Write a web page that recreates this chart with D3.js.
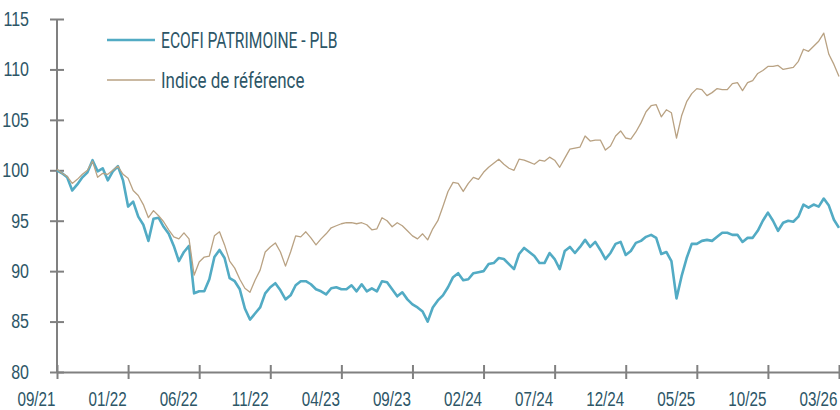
<!DOCTYPE html>
<meta charset="utf-8">
<style>
  body { margin: 0; background: #fff; }
  svg { font-family: "Roboto", "Liberation Sans", sans-serif; }
  .axis path, .axis line { stroke: #808080; stroke-width: 2; fill: none; }
  .axis text { fill: #2d5667; font-size: 20px; }
  .legend text { fill: #2d5667; font-size: 22px; }
</style>
<body>
<script src="https://cdn.jsdelivr.net/npm/d3@7"></script>
<script>

// tick labels on the category axis (evenly spaced, every 14th sample)
var dateLabels = ["09/21","01/22","06/22","11/22","04/23","09/23","02/24","07/24","12/24","05/25","10/25","03/26"];
var yTicks = [80, 85, 90, 95, 100, 105, 110, 115];
var seriesNames = ["ECOFI PATRIMOINE - PLB", "Indice de référence"];

// values, base 100
var ecofi = [
  100.0, 99.7, 99.3, 98.0, 98.6, 99.3, 99.8, 101.0, 99.9, 100.2,
  99.0, 99.9, 100.4, 99.0, 96.4, 96.9, 95.4, 94.6, 93.0, 95.2,
  95.3, 94.4, 93.7, 92.5, 91.0, 91.9, 92.5, 87.8, 88.0, 88.0,
  89.2, 91.4, 92.1, 91.3, 89.3, 89.0, 88.2, 86.3, 85.2, 85.8,
  86.4, 87.8, 88.4, 88.8, 88.1, 87.2, 87.6, 88.6, 89.0, 89.0,
  88.7, 88.2, 88.0, 87.7, 88.3, 88.4, 88.2, 88.2, 88.6, 88.0,
  88.7, 88.0, 88.3, 88.0, 89.0, 88.9, 88.2, 87.5, 87.9, 87.2,
  86.7, 86.4, 86.0, 85.0, 86.4, 87.1, 87.6, 88.4, 89.4, 89.8,
  89.1, 89.2, 89.8, 89.9, 90.0, 90.7, 90.8, 91.3, 91.2, 90.7,
  90.2, 91.7, 92.3, 91.9, 91.5, 90.8, 90.8, 91.8, 91.2, 90.2,
  92.0, 92.4, 91.8, 92.4, 93.1, 92.4, 92.9, 92.1, 91.2, 91.8,
  92.7, 92.9, 91.6, 92.0, 92.8, 93.0, 93.4, 93.6, 93.3, 91.7,
  91.9, 91.0, 87.3, 89.5, 91.3, 92.7, 92.7, 93.0, 93.1, 93.0,
  93.4, 93.8, 93.8, 93.6, 93.6, 92.9, 93.3, 93.3, 94.0, 95.0,
  95.8, 95.0, 94.0, 94.8, 95.0, 94.9, 95.4, 96.6, 96.3, 96.6,
  96.4, 97.2, 96.5, 95.1, 94.3
];

var indice = [
  100.1, 99.7, 99.4, 98.7, 99.1, 99.6, 100.0, 100.9, 99.3, 99.7,
  99.6, 100.0, 100.4, 99.6, 99.2, 98.0, 97.5, 96.6, 95.3, 96.0,
  95.5, 94.9, 94.1, 93.4, 93.2, 93.8, 93.2, 89.6, 90.9, 91.4,
  91.5, 93.5, 93.9, 92.6, 91.0, 90.3, 89.2, 88.3, 87.9, 89.1,
  90.1, 91.9, 92.4, 92.8, 91.9, 90.5, 91.9, 93.5, 93.4, 93.9,
  93.3, 92.6, 93.2, 93.7, 94.3, 94.5, 94.7, 94.8, 94.8, 94.7,
  94.8, 94.6, 94.1, 94.2, 95.3, 95.0, 94.4, 94.8, 94.5, 94.0,
  93.5, 93.2, 93.7, 93.1, 94.2, 95.0, 96.4, 97.9, 98.8, 98.7,
  97.9, 98.7, 99.3, 99.1, 99.8, 100.3, 100.7, 101.1, 100.6, 100.2,
  100.0, 101.1, 101.0, 100.8, 100.6, 101.0, 100.9, 101.3, 101.0, 100.3,
  101.2, 102.1, 102.2, 102.3, 103.4, 102.9, 103.0, 103.0, 102.0, 102.4,
  103.4, 103.9, 103.2, 103.1, 103.8, 104.7, 105.8, 106.4, 106.5, 105.3,
  106.0, 105.7, 103.2, 105.4, 106.8, 107.6, 108.1, 108.0, 107.4, 107.7,
  108.1, 108.0, 108.0, 108.6, 108.7, 107.9, 108.7, 108.9, 109.6, 109.9,
  110.3, 110.3, 110.4, 110.0, 110.1, 110.2, 110.8, 112.0, 111.8, 112.3,
  112.8, 113.6, 111.5, 110.5, 109.3
];

var colors = ["#52abc4", "#b9a283"];

var width = 840, height = 410;
var x0 = 57, x1 = 839, yTop = 19, yBottom = 372;
var step = (ecofi.length - 1) / (dateLabels.length - 1);

var svg = d3.select("body").append("svg")
    .attr("width", width)
    .attr("height", height);

var x = d3.scaleLinear().domain([0, ecofi.length - 1]).range([x0, x1]);
var y = d3.scaleLinear().domain([80, 115]).range([yBottom, yTop]);

var line = d3.line()
    .x(function(d, i) { return x(i); })
    .y(function(d) { return y(d); });

// squeeze a text to look like the condensed face of the original
function condense(sel, k) {
    sel.each(function() {
        var w = this.getComputedTextLength();
        d3.select(this)
            .attr("textLength", w * k)
            .attr("lengthAdjust", "spacingAndGlyphs");
    });
}

// y axis, ticks crossing the line
var yAxis = svg.append("g")
    .attr("class", "axis")
    .attr("transform", "translate(" + x0 + ",0)")
    .call(d3.axisLeft(y).tickValues(yTicks).tickSize(7).tickSizeOuter(0).tickPadding(21));
yAxis.selectAll(".tick line").attr("x1", 7);
yAxis.select(".domain").attr("d", "M0," + yTop + "V" + yBottom);
yAxis.selectAll(".tick text").call(condense, 0.8);

// x axis, labels end at their tick
var xTickIdx = dateLabels.map(function(d, i) { return i * step; });
var xAxis = svg.append("g")
    .attr("class", "axis")
    .attr("transform", "translate(0," + yBottom + ")")
    .call(d3.axisBottom(x).tickValues(xTickIdx).tickSize(7).tickSizeOuter(0)
        .tickFormat(function(d, i) { return dateLabels[i]; }));
xAxis.selectAll(".tick line").attr("y1", -7);
xAxis.selectAll(".tick text")
    .attr("text-anchor", "end")
    .attr("x", -2)
    .attr("y", 20)
    .attr("dy", "0.71em")
    .call(condense, 0.76);

// lines
svg.append("path")
    .datum(ecofi)
    .attr("fill", "none")
    .attr("stroke", colors[0])
    .attr("stroke-width", 2.6)
    .attr("stroke-linejoin", "round")
    .attr("d", line);

svg.append("path")
    .datum(indice)
    .attr("fill", "none")
    .attr("stroke", colors[1])
    .attr("stroke-width", 1.3)
    .attr("stroke-linejoin", "round")
    .attr("d", line);

// legend
var legend = svg.append("g").attr("class", "legend");
var squeeze = [0.71, 0.77];
seriesNames.forEach(function(name, i) {
    var ly = 40 + i * 40;
    legend.append("line")
        .attr("x1", 107).attr("x2", 155)
        .attr("y1", ly).attr("y2", ly)
        .attr("stroke", colors[i])
        .attr("stroke-width", i == 0 ? 2.6 : 1.6);
    legend.append("text")
        .attr("x", 161)
        .attr("y", ly)
        .attr("dy", "0.35em")
        .text(name)
        .call(condense, squeeze[i]);
});

</script>
</body>
